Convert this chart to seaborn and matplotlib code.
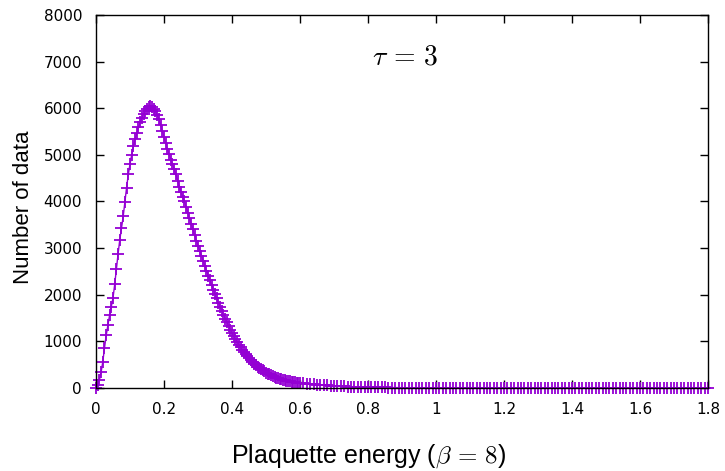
import seaborn as sns
import pandas as pd
import matplotlib.pyplot as plt
import numpy as np

# histogram of plaquette energy, tau = 3, beta = 8
# fine bins (0.005) up to 0.6, then 0.01 bins out to 1.8
counts_fine = [
    0, 60, 170, 340, 560, 860, 1130, 1350, 1560, 1740,
    1930, 2220, 2550, 2880, 3180, 3430, 3680, 3990, 4300, 4580,
    4800, 5000, 5180, 5330, 5460, 5590, 5700, 5800, 5880, 5950,
    5990, 6030, 6050, 6020, 5980, 5930, 5860, 5760, 5650, 5510,
    5380, 5250, 5120, 5010, 4900, 4800, 4700, 4580, 4450, 4320,
    4200, 4100, 4000, 3880, 3760, 3640, 3520, 3400, 3280, 3160,
    3050, 2940, 2840, 2730, 2620, 2510, 2410, 2310, 2210, 2110,
    2010, 1920, 1830, 1740, 1660, 1570, 1490, 1410, 1330, 1250,
    1180, 1110, 1050, 990, 930, 870, 820, 770, 720, 680,
    640, 600, 560, 525, 490, 460, 430, 405, 380, 355,
    330, 310, 290, 272, 255, 240, 225, 212, 200, 190,
    180, 170, 160, 152, 145, 137, 130, 124, 118, 113,
    108,
]
counts_tail = [
    100, 92, 85, 78, 72, 66, 60, 55, 50, 46,
    42, 38, 35, 32, 29, 26, 24, 22, 20, 18,
    16, 15, 13, 12, 11, 10, 9, 8, 7, 7,
    6, 6, 5, 5, 4, 4, 4, 3, 3, 3,
    3, 2, 2, 2, 2, 2, 2, 1, 1, 1,
    1, 1, 1, 1, 1, 0, 0, 0, 0, 0,
    0, 0, 0, 0, 0, 0, 0, 0, 0, 0,
    0, 0, 0, 0, 0, 0, 0, 0, 0, 0,
    0, 0, 0, 0, 0, 0, 0, 0, 0, 0,
    0, 0, 0, 0, 0, 0, 0, 0, 0, 0,
    0, 0, 0, 0, 0, 0, 0, 0, 0, 0,
    0, 0, 0, 0, 0, 0, 0, 0, 0, 0,
]
x_fine = np.round(np.arange(len(counts_fine)) * 0.005, 3)
x_tail = np.round(0.61 + np.arange(len(counts_tail)) * 0.01, 3)

x_ticks = [0, 0.2, 0.4, 0.6, 0.8, 1, 1.2, 1.4, 1.6, 1.8]
x_tick_labels = ['0', '0.2', '0.4', '0.6', '0.8', '1', '1.2', '1.4', '1.6', '1.8']
y_ticks = [0, 1000, 2000, 3000, 4000, 5000, 6000, 7000, 8000]

df = pd.DataFrame({'energy': np.concatenate([x_fine, x_tail]),
                   'count': counts_fine + counts_tail})

sns.set_style('ticks')
plt.rcParams['font.family'] = ['DejaVu Sans']
plt.rcParams['mathtext.fontset'] = 'cm'
plt.rcParams['text.color'] = 'black'
plt.rcParams['axes.labelcolor'] = 'black'

fig = plt.figure(figsize=(7.25, 4.71), dpi=100)
ax = fig.add_axes([0.1324, 0.1762, 0.8442, 0.792])

purple = '#9400D3'
sns.lineplot(data=df, x='energy', y='count', ax=ax, color=purple,
             linewidth=1.0, marker='+', markersize=9, markeredgewidth=1.3,
             markeredgecolor=purple, clip_on=False)

ax.set_xlim(0, 1.8)
ax.set_ylim(0, 8000)
ax.set_xticks(x_ticks)
ax.set_xticklabels(x_tick_labels)
ax.set_yticks(y_ticks)
ax.tick_params(direction='in', length=6, width=1, top=True, right=True,
               labelsize=11, colors='black', pad=10)
for s in ax.spines.values():
    s.set_visible(True)
    s.set_linewidth(1.0)
    s.set_color('black')
    s.set_zorder(3)

ax.set_xlabel(r'Plaquette energy ($\beta\,=\,8$)', fontsize=18,
              family=['Liberation Sans', 'DejaVu Sans'])
ax.xaxis.set_label_coords(0.446, -0.145)
ax.set_ylabel('Number of data', fontsize=16,
              family=['Liberation Sans', 'DejaVu Sans'])
ax.yaxis.set_label_coords(-0.102, 0.485)

ax.text(0.91, 7100, r'$\tau\,=\,3$', fontsize=20, ha='center', va='center')

plt.savefig('out.png', dpi=100)
